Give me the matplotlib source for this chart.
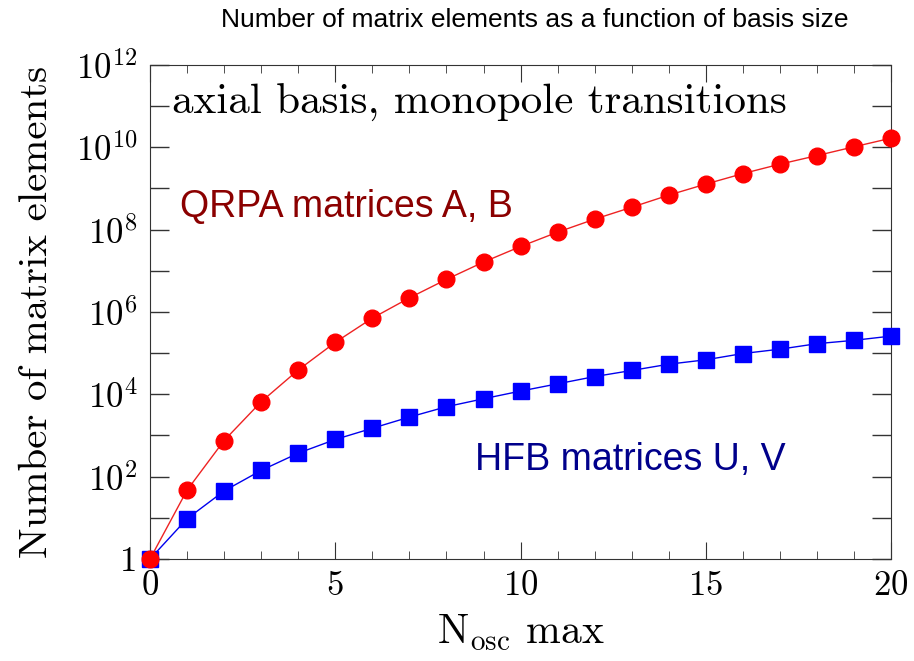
import numpy as np
import matplotlib
import matplotlib.pyplot as plt
import matplotlib.ticker as mtick

matplotlib.use('agg')
plt.rcParams.update({
    "font.family": "cmr10",
    "mathtext.fontset": "cm",
    "axes.formatter.use_mathtext": True,
})

# oscillator shells
n_osc = np.arange(0, 21)
# QRPA matrices A, B
qrpa = [1, 47, 755, 6.6e3, 3.9e4, 1.83e5, 7.1e5, 2.2e6, 6.2e6, 1.63e7, 3.9e7,
        8.7e7, 1.8e8, 3.5e8, 6.9e8, 1.28e9, 2.3e9, 3.9e9, 6.3e9, 1.03e10,
        1.67e10]
# HFB matrices U, V
hfb = [1, 9.5, 45, 142, 372, 800, 1.5e3, 2.8e3, 5.0e3, 7.8e3, 1.2e4,
       1.8e4, 2.7e4, 3.8e4, 5.4e4, 6.9e4, 9.8e4, 1.25e5, 1.7e5, 2.05e5,
       2.6e5]

yticks = [10.0**k for k in range(0, 13, 2)]
ylabels = ['1'] + [r'$10^{%d}$' % k for k in range(2, 13, 2)]

fig = plt.figure(figsize=(9.14, 6.61), dpi=100)
ax = fig.add_axes([0.1641, 0.1543, 0.8109, 0.7474])

ax.plot(n_osc, hfb, color='#0000ee', lw=1.0, marker='s', ms=11,
        markerfacecolor='#0000ff', markeredgecolor='#0000ff', zorder=3,
        clip_on=False)
ax.plot(n_osc, qrpa, color='#ee2222', lw=1.0, marker='o', ms=12,
        markerfacecolor='#ff0000', markeredgecolor='#ff0000', zorder=4,
        clip_on=False)

ax.set_yscale('log')
ax.set_xlim(0, 20)
ax.set_ylim(1, 1e12)
ax.set_yticks(yticks)
ax.set_yticklabels(ylabels)
ax.yaxis.set_minor_locator(mtick.FixedLocator(
    [10.0**k for k in range(1, 12, 2)]))
ax.yaxis.set_minor_formatter(mtick.NullFormatter())
ax.set_xticks([0, 5, 10, 15, 20])
ax.xaxis.set_minor_locator(mtick.MultipleLocator(1))

ax.tick_params(which='both', direction='in', top=True, right=True,
               labelsize=25, color='#333333')
ax.tick_params(axis='x', which='major', length=12, pad=8)
ax.tick_params(axis='x', which='minor', length=6)
ax.tick_params(axis='y', which='both', length=14, width=1.0, pad=9)
for s in ax.spines.values():
    s.set_color('#333333')

ax.set_ylabel('Number of matrix elements', fontsize=29.5, va='center')
ax.yaxis.set_label_coords(-0.153, 0.5)
ax.set_xlabel(r'$\mathrm{N}_{\mathrm{osc}}$ max', fontsize=30, va='center')
ax.xaxis.set_label_coords(0.5, -0.15)

ax.text(0.6, 1.2e11, 'axial basis, monopole transitions', fontsize=31,
        ha='left', va='center')
ax.text(0.8, 3.5e8, 'QRPA matrices A, B', fontsize=27,
        family='Liberation Sans', color='#8b0000', ha='left', va='center')
ax.text(8.77, 2.5e2, 'HFB matrices U, V', fontsize=27,
        family='Liberation Sans', color='#00008b', ha='left', va='center')

fig.text(0.585, 0.97, 'Number of matrix elements as a function of basis size',
         fontsize=19, family='Liberation Sans', ha='center', va='center')

fig.savefig('out.png', dpi=100)
